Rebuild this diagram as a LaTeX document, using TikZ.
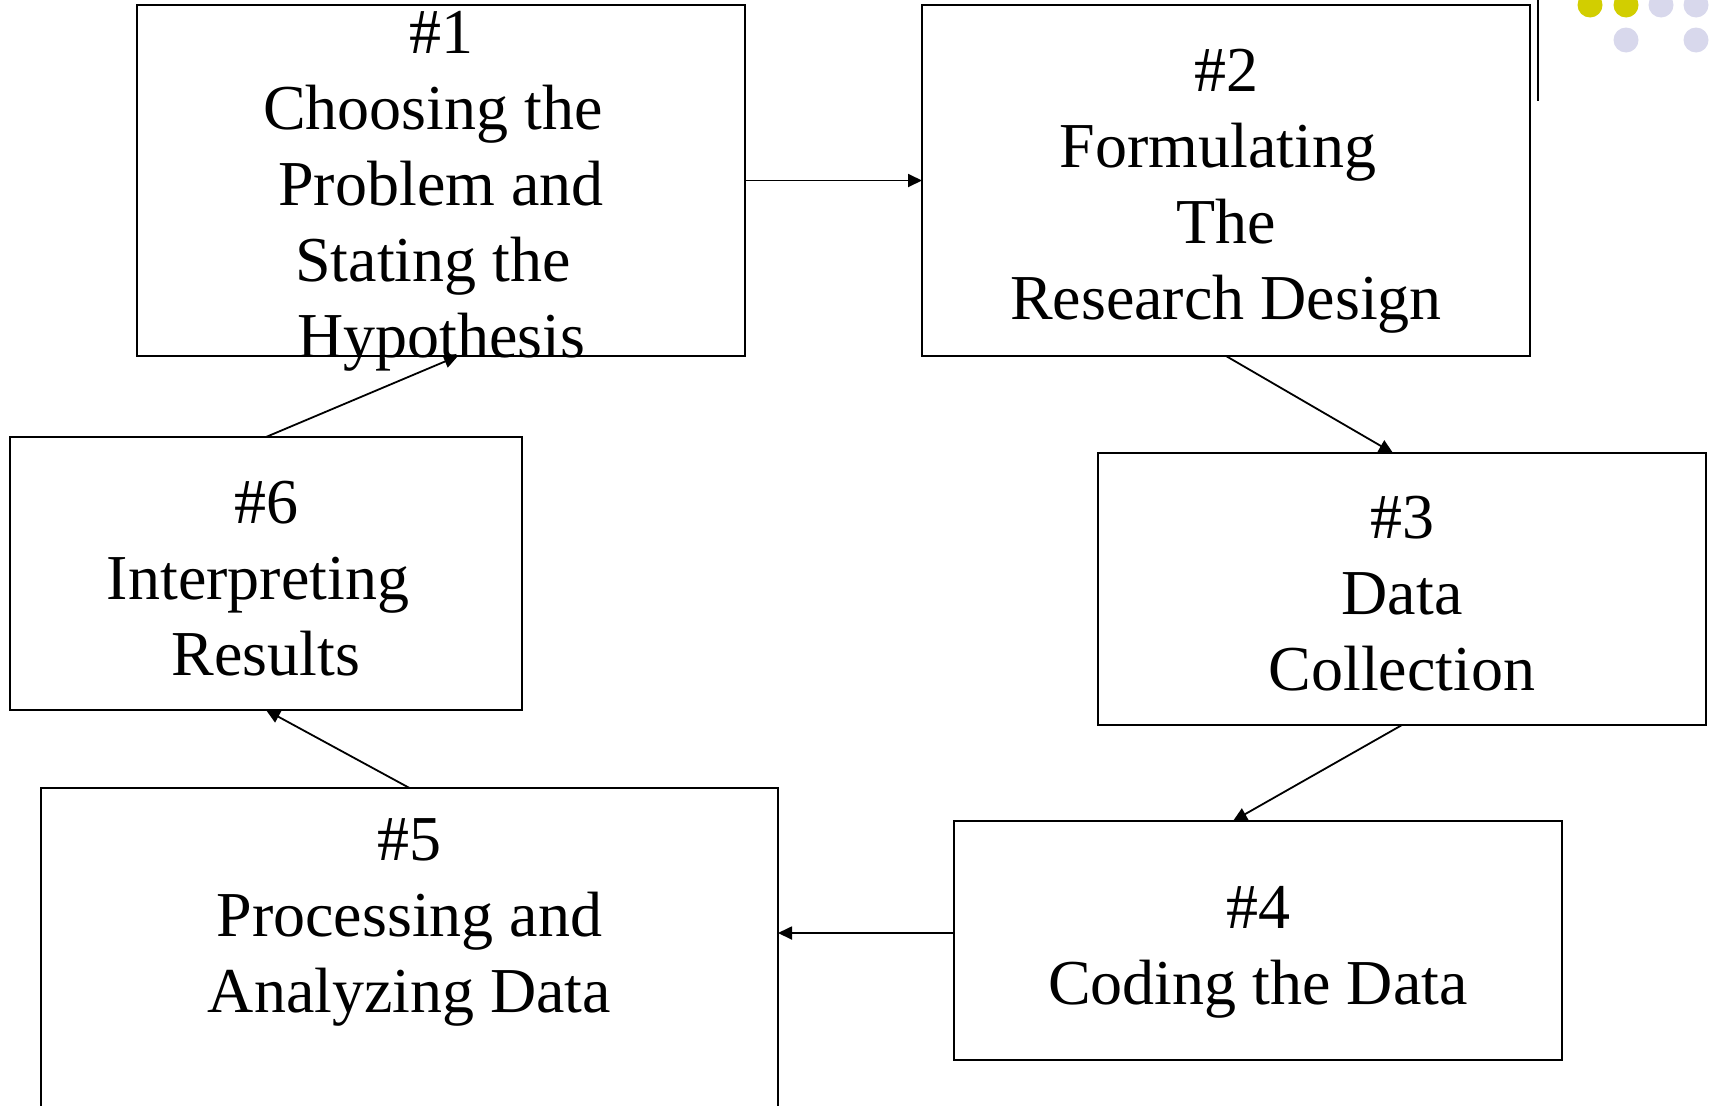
\documentclass[tikz,border=0pt]{standalone}
\usepackage{fontspec}
\setmainfont{Liberation Serif}
\usetikzlibrary{arrows.meta,positioning}
\definecolor{dotyellow}{RGB}{210,206,0}
\definecolor{dotlilac}{RGB}{216,216,236}
\newcommand{\trail}{\kern16pt}

\begin{document}
\begin{tikzpicture}[x=1pt,y=-1pt,>={Triangle[length=14pt,width=13pt]},
    stage/.style={draw,line width=2pt,inner sep=0pt,outer sep=0pt,minimum width=608pt},
    stagetext/.style={align=center,inner sep=0pt,font=\fontsize{64}{76}\selectfont},
    flow/.style={->,line width=1.8pt}]
    \useasboundingbox (0,0) rectangle (1709,1106);
    \clip (0,0) rectangle (1709,1106);

    % corner ornament
    \draw[line width=2pt] (1538,0) -- (1538,101);
    \foreach \cx/\cy/\col in {1590/5/dotyellow,1626/5/dotyellow,1661/5/dotlilac,
                              1696/5/dotlilac,1626/40/dotlilac,1696/40/dotlilac}
      \fill[\col] (\cx,\cy) circle (12.5pt);

    % the six stages
    \node[stage,minimum height=351pt]                    (b1) at (441,180.5)  {};
    \node[stage,minimum height=351pt]                    (b2) at (1226,180.5) {};
    \node[stage,minimum height=272pt]                    (b3) at (1402,589)   {};
    \node[stage,minimum height=239pt]                    (b4) at (1258,940.5) {};
    \node[stage,minimum height=338pt,minimum width=737pt] (b5) at (409.5,957)  {};
    \node[stage,minimum height=273pt,minimum width=512pt] (b6) at (266,573.5)  {};

    \node[stagetext,yshift=-11pt] (t1) at (b1) {\#1\\Choosing the\trail\\Problem and\\Stating the\trail\\Hypothesis};
    \node[stagetext,yshift=-11pt] (t2) at (b2) {\#2\\Formulating\trail\\The\\Research Design};
    \node[stagetext,yshift=-5pt] (t3) at (b3) {\#3\\Data\\Collection};
    \node[stagetext,yshift=-12pt] (t4) at (b4) {\#4\\Coding the Data};
    \node[stagetext,yshift=-6.5pt] (t5) at (409.5,915.5) {\#5\\Processing and\\Analyzing Data};
    \node[stagetext,yshift=-5pt] (t6) at (b6) {\#6\\Interpreting\trail\\Results};

    % cycle
    \coordinate (c45) at ([yshift=7.5pt]b4.west);
    \draw[flow] (b1.east) -- (b2.west);
    \draw[flow] (b2.south) -- ([xshift=-9pt]b3.north);
    \draw[flow] (b3.south) -- ([xshift=-25pt]b4.north);
    \draw[flow] (c45) -- (c45 -| b5.east);
    \draw[flow] ([yshift=169pt]b5.center) -- (b6.south);
    \draw[flow] (b6.north) -- ([xshift=17pt]b1.south);
\end{tikzpicture}
\end{document}
